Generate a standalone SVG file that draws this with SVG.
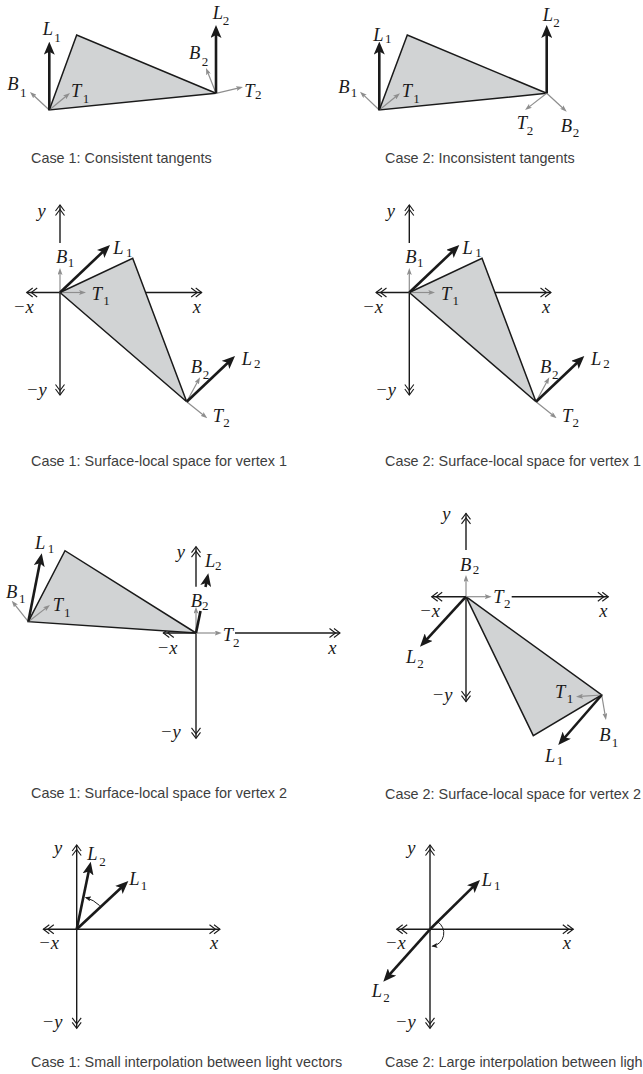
<svg xmlns="http://www.w3.org/2000/svg" width="643" height="1074" viewBox="0 0 643 1074">
<style>
.tri{fill:#d1d3d4;stroke:#1a1a1a;stroke-width:1.5;stroke-linejoin:miter}
.ax{fill:none;stroke:#1a1a1a;stroke-width:1.4;marker-end:url(#dc)}
.L{fill:none;stroke:#1a1a1a;stroke-width:2.6;marker-end:url(#ba)}
.Ln{fill:none;stroke:#1a1a1a;stroke-width:2.6}
.g{fill:none;stroke:#8e8e8e;stroke-width:1.2;marker-end:url(#ga)}
.arc{fill:none;stroke:#1a1a1a;stroke-width:1;marker-end:url(#sa)}
.lb{font-family:"Liberation Serif","DejaVu Serif",serif;font-style:italic;font-size:18.5px;fill:#1a1a1a}
.sb{font-style:normal;font-size:13px}
.cap{font-family:"Liberation Sans",Arial,sans-serif;font-size:14.4px;fill:#3d3d3d}
</style>
<defs>
<marker id="ba" viewBox="0 0 13 11" refX="5" refY="5.5" markerWidth="13" markerHeight="11" markerUnits="userSpaceOnUse" orient="auto"><path d="M0,0 L13,5.5 L0,11 L3,5.5 Z" fill="#1a1a1a"/></marker>
<marker id="ga" viewBox="0 0 7 5" refX="3" refY="2.5" markerWidth="7" markerHeight="5" markerUnits="userSpaceOnUse" orient="auto"><path d="M0,0 L7,2.5 L0,5 L1.5,2.5 Z" fill="#8e8e8e"/></marker>
<marker id="sa" viewBox="0 0 6 5" refX="5" refY="2.5" markerWidth="6" markerHeight="5" markerUnits="userSpaceOnUse" orient="auto"><path d="M0,0 L6,2.5 L0,5 L1.2,2.5 Z" fill="#1a1a1a"/></marker>
<marker id="dc" viewBox="-12 -6 13 12" refX="0" refY="0" markerWidth="13" markerHeight="12" markerUnits="userSpaceOnUse" orient="auto" overflow="visible"><path d="M-6,-4.5 L0,0 L-6,4.5 M-10.5,-4.5 L-4.5,0 L-10.5,4.5" fill="none" stroke="#1a1a1a" stroke-width="1.1"/></marker>
</defs>

<g id="panel1">
<polygon class="tri" points="49.3,110 76.7,35 216,93.3"/>
<g id="connectors1">
<line class="g" x1="49.3" y1="110" x2="32.9" y2="94.7"/>
<line class="g" x1="49.3" y1="110" x2="66.9" y2="95.5"/>
<line class="L" x1="49.3" y1="110" x2="49.3" y2="49.7"/>
<line class="g" x1="216" y1="93.3" x2="207.5" y2="71.7"/>
<line class="g" x1="216" y1="93.3" x2="239.1" y2="87.9"/>
<line class="L" x1="216" y1="93.3" x2="216" y2="33"/>
</g>
<text class="lb" x="42.7" y="35">L<tspan class="sb" x="54.3" y="41.7">1</tspan></text>
<text class="lb" x="7.3" y="90">B<tspan class="sb" x="20" y="96.7">1</tspan></text>
<text class="lb" x="71" y="96.7">T<tspan class="sb" x="82.7" y="102.7">1</tspan></text>
<text class="lb" x="212.7" y="19.3">L<tspan class="sb" x="222.7" y="25">2</tspan></text>
<text class="lb" x="189" y="59.3">B<tspan class="sb" x="201.7" y="66">2</tspan></text>
<text class="lb" x="244.3" y="96.7">T<tspan class="sb" x="255" y="99.3">2</tspan></text>
<text class="cap" x="31" y="162.5">Case 1: Consistent tangents</text>
</g>

<g id="panel2">
<polygon class="tri" points="379.3,110 407.3,35 546.7,93.3"/>
<g id="connectors2">
<line class="g" x1="379.3" y1="110" x2="362.9" y2="94.4"/>
<line class="g" x1="379.3" y1="110" x2="396.9" y2="95.8"/>
<line class="L" x1="379.3" y1="110" x2="379.3" y2="49.5"/>
<line class="g" x1="546.7" y1="93.3" x2="528.2" y2="107.6"/>
<line class="g" x1="546.7" y1="93.3" x2="563.8" y2="109"/>
<line class="L" x1="546.7" y1="93.3" x2="546.7" y2="33"/>
</g>
<text class="lb" x="373.3" y="40.7">L<tspan class="sb" x="385" y="42.7">1</tspan></text>
<text class="lb" x="338.3" y="93.3">B<tspan class="sb" x="350.7" y="97.3">1</tspan></text>
<text class="lb" x="401.7" y="97.3">T<tspan class="sb" x="413.3" y="103.3">1</tspan></text>
<text class="lb" x="542.7" y="20.7">L<tspan class="sb" x="553.3" y="26.7">2</tspan></text>
<text class="lb" x="516.7" y="129.3">T<tspan class="sb" x="526.7" y="135">2</tspan></text>
<text class="lb" x="560.7" y="131.7">B<tspan class="sb" x="572.7" y="136.7">2</tspan></text>
<text class="cap" x="385" y="163">Case 2: Inconsistent tangents</text>
</g>

<g id="panel3">
<g id="axes3">
<line class="ax" x1="60" y1="243" x2="60" y2="205"/>
<line class="ax" x1="60" y1="292.5" x2="60" y2="395"/>
<line class="ax" x1="60" y1="292.5" x2="26.7" y2="292.5"/>
<line class="ax" x1="60" y1="292.5" x2="201.7" y2="292.5"/>
</g>
<polygon class="tri" points="60,292.5 132.7,258.3 186.7,401.7"/>
<g id="connectors3">
<line class="g" x1="60" y1="292.5" x2="60" y2="272"/>
<line class="g" x1="60" y1="292.5" x2="82" y2="292.5"/>
<line class="L" x1="60" y1="292.5" x2="104.2" y2="250.5"/>
<line class="g" x1="186.7" y1="401.7" x2="198.1" y2="380.8"/>
<line class="g" x1="186.7" y1="401.7" x2="204.2" y2="415.8"/>
<line class="L" x1="186.7" y1="401.7" x2="229.2" y2="361.5"/>
</g>
<text class="lb" x="37.5" y="217">y</text>
<text class="lb" x="13" y="313">−x</text>
<text class="lb" x="192.7" y="313">x</text>
<text class="lb" x="26" y="395.5">−y</text>
<text class="lb" x="113.3" y="254.3">L<tspan class="sb" x="126" y="256.7">1</tspan></text>
<text class="lb" x="56" y="262.7">B<tspan class="sb" x="67.7" y="267.3">1</tspan></text>
<text class="lb" x="91.7" y="300">T<tspan class="sb" x="103.3" y="305">1</tspan></text>
<text class="lb" x="241.7" y="365">L<tspan class="sb" x="254" y="368.3">2</tspan></text>
<text class="lb" x="190.7" y="372.7">B<tspan class="sb" x="202.7" y="379.3">2</tspan></text>
<text class="lb" x="212.7" y="421.7">T<tspan class="sb" x="223.3" y="427.3">2</tspan></text>
<text class="cap" x="31" y="465.5">Case 1: Surface-local space for vertex 1</text>
</g>

<g id="panel4">
<g transform="translate(349.3,0)">
<g id="axes4">
<line class="ax" x1="60" y1="243" x2="60" y2="205"/>
<line class="ax" x1="60" y1="292.5" x2="60" y2="395"/>
<line class="ax" x1="60" y1="292.5" x2="26.7" y2="292.5"/>
<line class="ax" x1="60" y1="292.5" x2="201.7" y2="292.5"/>
</g>
<polygon class="tri" points="60,292.5 132.7,258.3 186.7,401.7"/>
<g id="connectors4">
<line class="g" x1="60" y1="292.5" x2="60" y2="272"/>
<line class="g" x1="60" y1="292.5" x2="82" y2="292.5"/>
<line class="L" x1="60" y1="292.5" x2="104.2" y2="250.5"/>
<line class="g" x1="186.7" y1="401.7" x2="198.1" y2="380.8"/>
<line class="g" x1="186.7" y1="401.7" x2="204.2" y2="415.8"/>
<line class="L" x1="186.7" y1="401.7" x2="229.2" y2="361.5"/>
</g>
<text class="lb" x="37.5" y="217">y</text>
<text class="lb" x="13" y="313">−x</text>
<text class="lb" x="192.7" y="313">x</text>
<text class="lb" x="26" y="395.5">−y</text>
<text class="lb" x="113.3" y="254.3">L<tspan class="sb" x="126" y="256.7">1</tspan></text>
<text class="lb" x="56" y="262.7">B<tspan class="sb" x="67.7" y="267.3">1</tspan></text>
<text class="lb" x="91.7" y="300">T<tspan class="sb" x="103.3" y="305">1</tspan></text>
<text class="lb" x="241.7" y="365">L<tspan class="sb" x="254" y="368.3">2</tspan></text>
<text class="lb" x="190.7" y="372.7">B<tspan class="sb" x="202.7" y="379.3">2</tspan></text>
<text class="lb" x="212.7" y="421.7">T<tspan class="sb" x="223.3" y="427.3">2</tspan></text>
</g>
<text class="cap" x="385" y="466">Case 2: Surface-local space for vertex 1</text>
</g>

<g id="panel5">
<g id="axes5">
<line class="ax" x1="196" y1="586.7" x2="196" y2="546.7"/>
<line class="ax" x1="196" y1="633" x2="196" y2="738.3"/>
<line class="ax" x1="196" y1="633" x2="163.3" y2="633"/>
<line class="ax" x1="235" y1="633" x2="340" y2="633"/>
</g>
<polygon class="tri" points="28.3,621.7 65,550.7 196,633"/>
<g id="connectors5">
<line class="g" x1="28.3" y1="621.7" x2="14.2" y2="603.8"/>
<line class="g" x1="28.3" y1="621.7" x2="46.8" y2="607.4"/>
<line class="L" x1="28.3" y1="621.7" x2="40.2" y2="561.2"/>
<line class="g" x1="196" y1="633" x2="196" y2="610.7"/>
<line class="g" x1="196" y1="633" x2="217.7" y2="633"/>
<line class="Ln" x1="196" y1="633" x2="200.5" y2="611"/>
<line class="L" x1="205.5" y1="587" x2="206.7" y2="581.1"/>
</g>
<text class="lb" x="176.7" y="558">y</text>
<text class="lb" x="156.7" y="654">−x</text>
<text class="lb" x="328.3" y="654">x</text>
<text class="lb" x="160" y="738">−y</text>
<text class="lb" x="35" y="549">L<tspan class="sb" x="47.7" y="553.3">1</tspan></text>
<text class="lb" x="6" y="598.3">B<tspan class="sb" x="19" y="603.3">1</tspan></text>
<text class="lb" x="52.7" y="610.7">T<tspan class="sb" x="64" y="616.7">1</tspan></text>
<text class="lb" x="205" y="566.7">L<tspan class="sb" x="215" y="570">2</tspan></text>
<text class="lb" x="190.7" y="606.7">B<tspan class="sb" x="202" y="610">2</tspan></text>
<text class="lb" x="222.7" y="640.7">T<tspan class="sb" x="233" y="646.7">2</tspan></text>
<text class="cap" x="31" y="798">Case 1: Surface-local space for vertex 2</text>
</g>

<g id="panel6">
<g id="axes6">
<line class="ax" x1="466" y1="550" x2="466" y2="513.3"/>
<line class="ax" x1="466" y1="596.7" x2="466" y2="701.7"/>
<line class="ax" x1="466" y1="596.7" x2="431.7" y2="596.7"/>
<line class="ax" x1="511.7" y1="596.7" x2="608.3" y2="596.7"/>
</g>
<polygon class="tri" points="466,596.7 601.7,695 533.3,735.7"/>
<g id="connectors6">
<line class="g" x1="466" y1="596.7" x2="466" y2="579"/>
<line class="g" x1="466" y1="596.7" x2="487.7" y2="596.7"/>
<line class="L" x1="466" y1="596.7" x2="425.4" y2="640.8"/>
<line class="g" x1="601.7" y1="695" x2="580" y2="696.4"/>
<line class="g" x1="601.7" y1="695" x2="605.3" y2="716.1"/>
<line class="L" x1="601.7" y1="695" x2="563.5" y2="739"/>
</g>
<text class="lb" x="442.3" y="520">y</text>
<text class="lb" x="419.3" y="616.5">−x</text>
<text class="lb" x="599.3" y="616.5">x</text>
<text class="lb" x="431.7" y="700.5">−y</text>
<text class="lb" x="460" y="570.5">B<tspan class="sb" x="472.7" y="574">2</tspan></text>
<text class="lb" x="493.3" y="602.7">T<tspan class="sb" x="504" y="608.3">2</tspan></text>
<text class="lb" x="406" y="663.3">L<tspan class="sb" x="417.3" y="668.3">2</tspan></text>
<text class="lb" x="555" y="698.3">T<tspan class="sb" x="566.7" y="703.3">1</tspan></text>
<text class="lb" x="599.3" y="740.7">B<tspan class="sb" x="611.7" y="746.7">1</tspan></text>
<text class="lb" x="545" y="761.7">L<tspan class="sb" x="556.7" y="765">1</tspan></text>
<text class="cap" x="385" y="799">Case 2: Surface-local space for vertex 2</text>
</g>

<g id="panel7">
<g id="axes7">
<line class="ax" x1="76.7" y1="929.3" x2="76.7" y2="845"/>
<line class="ax" x1="76.7" y1="929.3" x2="76.7" y2="1028.3"/>
<line class="ax" x1="76.7" y1="929.3" x2="43.3" y2="929.3"/>
<line class="ax" x1="76.7" y1="929.3" x2="220" y2="929.3"/>
</g>
<g id="connectors7">
<line class="L" x1="76.7" y1="929.3" x2="89.1" y2="869.5"/>
<line class="L" x1="76.7" y1="929.3" x2="122.5" y2="886.5"/>
<path class="arc" d="M99.7,905.6 A33,33 0 0 0 85.8,897.6"/>
</g>
<text class="lb" x="54" y="854">y</text>
<text class="lb" x="38.3" y="949">−x</text>
<text class="lb" x="210" y="949">x</text>
<text class="lb" x="41.7" y="1028">−y</text>
<text class="lb" x="87.3" y="860">L<tspan class="sb" x="99.3" y="865.7">2</tspan></text>
<text class="lb" x="129.3" y="885.3">L<tspan class="sb" x="140.7" y="890">1</tspan></text>
<text class="cap" x="31" y="1066.5">Case 1: Small interpolation between light vectors</text>
</g>

<g id="panel8">
<g id="axes8">
<line class="ax" x1="430" y1="929.3" x2="430" y2="845"/>
<line class="ax" x1="430" y1="929.3" x2="430" y2="1028.3"/>
<line class="ax" x1="430" y1="929.3" x2="396.7" y2="929.3"/>
<line class="ax" x1="430" y1="929.3" x2="573.3" y2="929.3"/>
</g>
<g id="connectors8">
<line class="L" x1="430" y1="929.3" x2="474.3" y2="885.6"/>
<line class="L" x1="430" y1="929.3" x2="388.6" y2="975.7"/>
<path class="arc" d="M437.3,921.6 A13.3,13.3 0 0 1 432.4,946.2"/>
</g>
<text class="lb" x="407.3" y="854">y</text>
<text class="lb" x="385" y="949">−x</text>
<text class="lb" x="562.7" y="949">x</text>
<text class="lb" x="395" y="1028">−y</text>
<text class="lb" x="481.7" y="886">L<tspan class="sb" x="494" y="890">1</tspan></text>
<text class="lb" x="371.7" y="996.7">L<tspan class="sb" x="383.3" y="1001.7">2</tspan></text>
<text class="cap" x="385" y="1066.5">Case 2: Large interpolation between ligh</text>
</g>
</svg>
